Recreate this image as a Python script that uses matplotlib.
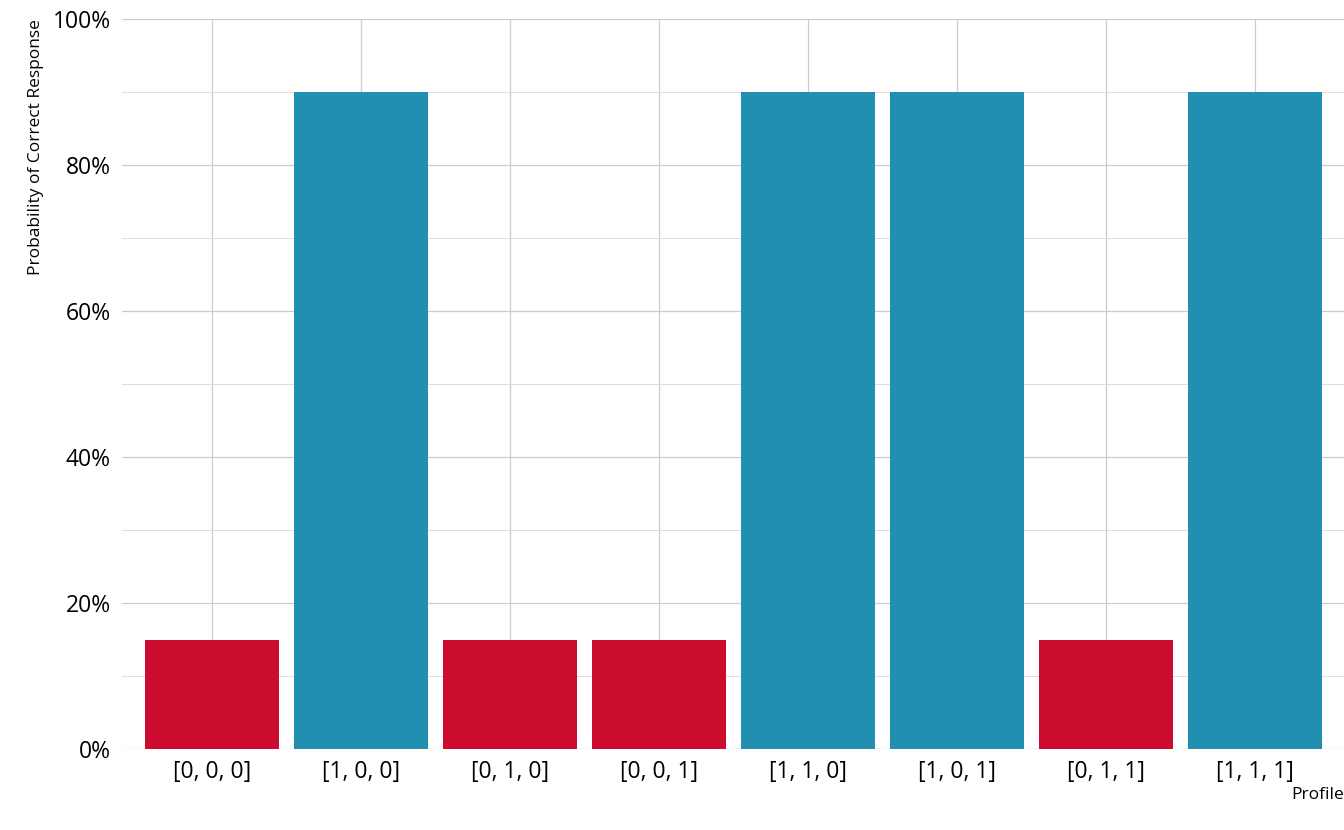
import matplotlib.pyplot as plt
from matplotlib.ticker import MultipleLocator, PercentFormatter

profiles = ["[0, 0, 0]", "[1, 0, 0]", "[0, 1, 0]", "[0, 0, 1]",
            "[1, 1, 0]", "[1, 0, 1]", "[0, 1, 1]", "[1, 1, 1]"]
prob_correct = [0.15, 0.90, 0.15, 0.15, 0.90, 0.90, 0.15, 0.90]
mastered = [False, True, False, False, True, True, False, True]

plt.rcParams['font.family'] = ['Open Sans', 'DejaVu Sans']

fig = plt.figure(figsize=(13.44, 8.30), dpi=100)
ax = fig.add_axes([122 / 1344, 81 / 830, 1 - 122 / 1344, (749 - 19) / 830])

colors = ["#2190B0" if m else "#CC0C2F" for m in mastered]
x = list(range(len(profiles)))
ax.bar(x, prob_correct, width=0.9, color=colors, zorder=2)

ax.set_xlim(-0.604, 7.6)
ax.set_ylim(0, 1)
ax.set_xticks(x)
ax.set_xticklabels(profiles)
ax.yaxis.set_major_locator(MultipleLocator(0.2))
ax.yaxis.set_minor_locator(MultipleLocator(0.1))
ax.yaxis.set_major_formatter(PercentFormatter(1.0, decimals=0))
ax.grid(True, which='major', color='#cccccc', linewidth=0.9, zorder=0)
ax.grid(True, which='minor', axis='y', color='#dddddd', linewidth=0.7, zorder=0)
ax.set_axisbelow(True)
for s in ax.spines.values():
    s.set_visible(False)
ax.tick_params(which='both', length=0, labelsize=16.5, pad=8)
ax.set_xlabel("Profile", loc='right', fontsize=12.5, labelpad=2)
ax.set_ylabel("Probability of Correct Response", loc='top', fontsize=12.5, labelpad=6)

fig.savefig("out.png", dpi=100)
